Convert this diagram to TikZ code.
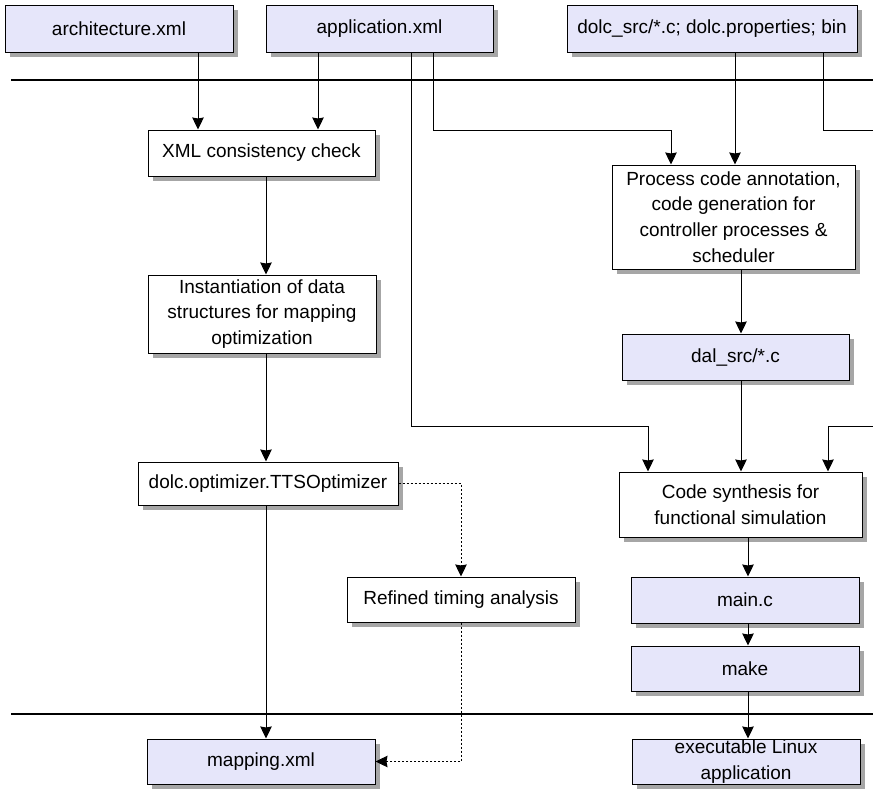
\documentclass[tikz,border=0pt]{standalone}
\usepackage{fontspec}
\setmainfont{Liberation Sans}
\usetikzlibrary{arrows.meta, shadows}
\definecolor{filefill}{RGB}{230,230,250}

\begin{document}
\begin{tikzpicture}[x=1pt, y=-1pt,
  box/.style={draw, line width=1pt, fill=white, inner sep=0pt, align=center,
    drop shadow={shadow xshift=5pt, shadow yshift=-5pt, fill=black!35, opacity=1},
    font=\fontsize{19}{25.7}\selectfont},
  filebox/.style={box, fill=filefill},
  wire/.style={line width=1pt},
  conn/.style={wire, -{Stealth[length=12pt, width=11.5pt, inset=1pt]}},
  dotconn/.style={conn, dash pattern=on 2pt off 2pt},
  rule/.style={line width=2.5pt}]
\useasboundingbox (0,0) rectangle (873,790);
\coordinate (rtl) at (11,80);
\coordinate (rtr) at (873,80);
\coordinate (rbl) at (11,714);
\coordinate (rbr) at (873,714);
\draw[rule] (rtl) -- (rtr);
\draw[rule] (rbl) -- (rbr);
\node[filebox, minimum width=228pt, minimum height=47pt] (arch) at (119,28.5) {architecture.xml};
\node[filebox, minimum width=227pt, minimum height=47pt] (appl) at (379.5,28.5) {application.xml};
\node[filebox, minimum width=290pt, minimum height=47pt] (dolc) at (712,28.5) {dolc\_src/*.c; dolc.properties; bin};
\node[box, minimum width=227pt, minimum height=46pt] (xmlchk) at (261.5,153) {XML consistency check};
\node[box, minimum width=228pt, minimum height=78pt] (inst) at (262,314) {Instantiation of data\\structures for mapping\\optimization};
\node[box, minimum width=260pt, minimum height=43pt] (tts) at (268,483.5) {dolc.optimizer.TTSOptimizer};
\node[box, minimum width=228pt, minimum height=45pt] (refined) at (461,599.5) {Refined timing analysis};
\node[filebox, minimum width=228pt, minimum height=45pt] (mapping) at (261,761.5) {mapping.xml};
\node[box, minimum width=243pt, minimum height=104pt] (proc) at (733.5,217) {Process code annotation,\\code generation for\\controller processes \&\\scheduler};
\node[filebox, minimum width=227pt, minimum height=46pt] (dal) at (735.5,357) {dal\_src/*.c};
\node[box, minimum width=243pt, minimum height=65pt] (synth) at (740.5,504.5) {Code synthesis for\\functional simulation};
\node[filebox, minimum width=228pt, minimum height=46pt] (mainc) at (745,600) {main.c};
\node[filebox, minimum width=228pt, minimum height=45pt] (make) at (745,668.5) {make};
\node[filebox, minimum width=228pt, minimum height=45pt] (exec) at (746,761.5) {executable Linux\\application};
\coordinate (ca) at (198,0);
\coordinate (cb) at (318,0);
\coordinate (ce) at (735,0);
\coordinate (cg) at (266,0);
\coordinate (ci) at (741,0);
\coordinate (ch) at (748,0);
\coordinate (bendc) at (411,426);
\coordinate (synthl) at (648,426);
\coordinate (bendd) at (433,130);
\coordinate (procin) at (671,130);
\coordinate (bendf) at (823,130);
\coordinate (edgetop) at (873,130);
\coordinate (edgemid) at (873,426);
\coordinate (synthr) at (828,426);
\draw[conn] (arch.south -| ca) -- (xmlchk.north -| ca);
\draw[conn] (appl.south -| cb) -- (xmlchk.north -| cb);
\draw[conn] (appl.south -| bendc) -- (bendc) -- (synthl) -- (synth.north -| synthl);
\draw[conn] (appl.south -| bendd) -- (bendd) -- (procin) -- (proc.north -| procin);
\draw[conn] (dolc.south -| ce) -- (proc.north -| ce);
\draw[wire] (dolc.south -| bendf) -- (bendf) -- (edgetop);
\draw[conn] (edgemid) -- (synthr) -- (synth.north -| synthr);
\draw[conn] (xmlchk.south -| cg) -- (inst.north -| cg);
\draw[conn] (inst.south -| cg) -- (tts.north -| cg);
\draw[conn] (tts.south -| cg) -- (mapping.north -| cg);
\draw[dotconn] (tts.east) -| (refined.north);
\draw[dotconn] (refined.south) |- (mapping.east);
\draw[conn] (proc.south -| ci) -- (dal.north -| ci);
\draw[conn] (dal.south -| ci) -- (synth.north -| ci);
\draw[conn] (synth.south -| ch) -- (mainc.north -| ch);
\draw[conn] (mainc.south -| ch) -- (make.north -| ch);
\draw[conn] (make.south -| ch) -- (exec.north -| ch);
\end{tikzpicture}
\end{document}
